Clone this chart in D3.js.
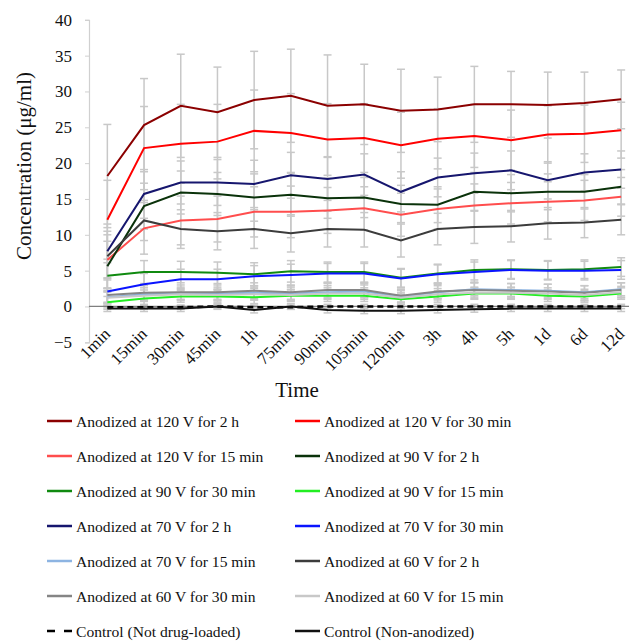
<!DOCTYPE html>
<html>
<head>
<meta charset="utf-8">
<script src="https://cdn.jsdelivr.net/npm/d3@7"></script>
<style>
  body { margin: 0; background: #fff; }
  text { font-family: "Liberation Serif", "Times New Roman", serif; fill: #111; }
</style>
</head>
<body>
<div id="chart"></div>
<script>
// time points
var times = ["1min","15min","30min","45min","1h","75min","90min","105min","120min","3h","4h","5h","1d","6d","12d"];
var yTicks = [-5, 0, 5, 10, 15, 20, 25, 30, 35, 40];

// series names
var seriesNames = [
    "Anodized at 120 V for 2 h", "Anodized at 120 V for 30 min",
    "Anodized at 120 V for 15 min", "Anodized at 90 V for 2 h",
    "Anodized at 90 V for 30 min", "Anodized at 90 V for 15 min",
    "Anodized at 70 V for 2 h", "Anodized at 70 V for 30 min",
    "Anodized at 70 V for 15 min", "Anodized at 60 V for 2 h",
    "Anodized at 60 V for 30 min", "Anodized at 60 V for 15 min",
    "Control (Not drug-loaded)", "Control (Non-anodized)"
];
var seriesColors = ["#8b0000","#ff0000","#ff4d4d","#0a320a","#108a10","#22ee22",
                    "#16166e","#0a14ff","#8db4e2","#3c3c3c","#858585","#c8c8c8","#000000","#111111"];

// concentration values (ug/ml)
var v120_2h  = [18.2,25.3,28.0,27.1,28.8,29.4,28.0,28.2,27.3,27.5,28.2,28.2,28.1,28.4,28.9];
var v120_30  = [12.1,22.1,22.7,23.0,24.5,24.2,23.3,23.5,22.5,23.4,23.8,23.2,24.0,24.1,24.6];
var v120_15  = [6.5,10.9,12.0,12.2,13.2,13.2,13.4,13.7,12.8,13.6,14.1,14.4,14.6,14.8,15.3];
var v90_2h   = [5.6,14.0,15.9,15.7,15.2,15.6,15.1,15.2,14.3,14.2,16.0,15.8,16.0,16.0,16.7];
var v90_30   = [4.3,4.8,4.8,4.7,4.5,4.9,4.8,4.8,4.0,4.6,5.1,5.2,5.1,5.2,5.5];
var v90_15   = [0.6,1.1,1.4,1.4,1.3,1.5,1.5,1.5,1.0,1.4,1.8,1.8,1.5,1.4,1.8];
var v70_2h   = [7.7,15.7,17.3,17.3,17.1,18.3,17.8,18.4,16.0,18.0,18.6,19.0,17.6,18.7,19.1];
var v70_30   = [2.1,3.1,3.8,3.8,4.2,4.4,4.6,4.6,3.9,4.5,4.8,5.1,5.0,5.0,5.1];
var v70_15   = [1.3,1.7,1.8,1.8,1.9,1.8,2.0,2.1,1.4,2.0,2.4,2.3,2.2,2.0,2.4];
var v60_2h   = [7.0,12.0,10.8,10.5,10.8,10.2,10.8,10.7,9.2,10.8,11.1,11.2,11.6,11.7,12.1];
var v60_30   = [1.6,1.9,2.0,2.0,2.2,2.0,2.3,2.3,1.5,2.1,2.3,2.2,2.1,1.9,2.3];
var v60_15   = [1.2,1.5,1.7,1.6,1.7,1.6,1.8,1.8,1.2,1.7,1.9,1.9,1.8,1.6,2.0];
var vCtrlDrug = [-0.1,-0.1,-0.1,0.0,-0.1,-0.1,0.0,0.0,0.0,0.0,0.0,0.0,0.0,0.0,0.0];
var vCtrlAnod = [-0.3,-0.3,-0.3,0.0,-0.5,0.0,-0.5,-0.6,-0.6,-0.5,-0.4,-0.3,-0.3,-0.3,-0.3];

// error bar half-lengths
var e120_2h  = [7.2,6.5,7.2,6.3,6.8,6.5,7.1,5.6,5.8,4.5,5.3,4.6,4.6,4.3,4.1];
var e120_30  = [5.5,5.8,5.5,5.2,5.7,5.5,5.0,4.8,4.6,4.2,4.4,4.2,4.0,4.0,3.9];
var e120_15  = [4.0,3.6,3.4,3.2,3.5,3.6,3.2,3.0,3.0,2.8,3.0,2.9,2.8,2.8,2.7];
var e90_2h   = [3.5,3.2,3.0,3.0,3.3,3.0,2.8,2.8,2.6,2.5,2.7,2.6,2.5,2.4,2.4];
var e90_30   = [1.8,1.6,1.5,1.5,1.6,1.5,1.4,1.4,1.3,1.3,1.4,1.3,1.3,1.3,1.3];
var e90_15   = [0.8,0.8,0.8,0.8,0.9,0.8,0.8,0.8,0.7,0.8,0.8,0.8,0.8,0.8,0.8];
var e70_2h   = [3.8,3.4,3.0,3.2,3.3,3.2,3.0,2.9,2.8,2.7,2.8,2.7,2.6,2.6,2.6];
var e70_30   = [1.6,1.5,1.4,1.4,1.5,1.5,1.4,1.4,1.3,1.3,1.4,1.3,1.3,1.3,1.3];
var e70_15   = [0.9,0.9,0.9,0.9,1.0,0.9,0.9,0.9,0.8,0.9,0.9,0.9,0.9,0.9,0.9];
var e60_2h   = [3.0,2.8,2.7,2.6,2.7,2.6,2.5,2.4,2.3,2.2,2.3,2.2,2.2,2.1,2.1];
var e60_30   = [1.0,1.0,1.0,1.0,1.1,1.0,1.0,1.0,0.9,1.0,1.0,1.0,1.0,1.0,1.0];
var e60_15   = [0.8,0.8,0.8,0.8,0.8,0.8,0.8,0.8,0.7,0.8,0.8,0.8,0.8,0.8,0.8];
var eCtrlDrug = [0.3,0.3,0.3,0.3,0.3,0.3,0.3,0.3,0.3,0.3,0.3,0.3,0.3,0.3,0.3];
var eCtrlAnod = [0.4,0.4,0.4,0.4,0.4,0.4,0.4,0.4,0.4,0.4,0.4,0.4,0.4,0.4,0.4];

var seriesValues = [v120_2h,v120_30,v120_15,v90_2h,v90_30,v90_15,v70_2h,v70_30,v70_15,v60_2h,v60_30,v60_15,vCtrlDrug,vCtrlAnod];
var seriesErrors = [e120_2h,e120_30,e120_15,e90_2h,e90_30,e90_15,e70_2h,e70_30,e70_15,e60_2h,e60_30,e60_15,eCtrlDrug,eCtrlAnod];

var svgWidth = 629;
var svgHeight = 641;

var svg = d3.select("#chart")
            .append("svg")
            .attr("width", svgWidth)
            .attr("height", svgHeight);

var xScale = d3.scaleBand()
               .domain(times)
               .range([89, 639.5]);
var yScale = d3.scaleLinear()
               .domain([-5, 40])
               .range([342.3, 19.8]);
var cx = function(t){ return xScale(t) + xScale.bandwidth()/2; };

var series = seriesNames.map(function(name, i){
    return {
        name: name,
        color: seriesColors[i],
        dashed: i == 12,
        points: times.map(function(t, j){
            return {t: t, v: seriesValues[i][j], e: seriesErrors[i][j]};
        })
    };
});

// error bars
var errGroup = svg.append("g");
series.forEach(function(s){
    s.points.forEach(function(p){
        var x = cx(p.t);
        var y1 = yScale(p.v + p.e), y2 = yScale(p.v - p.e);
        errGroup.append("line")
            .attr("x1", x).attr("x2", x).attr("y1", y1).attr("y2", y2)
            .attr("stroke", "#c8c8c8").attr("stroke-width", 1.5);
        [y1, y2].forEach(function(y){
            errGroup.append("line")
                .attr("x1", x-4).attr("x2", x+4).attr("y1", y).attr("y2", y)
                .attr("stroke", "#c8c8c8").attr("stroke-width", 1.5);
        });
    });
});

// y axis
var yAxis = d3.axisLeft(yScale).tickValues(yTicks).tickSize(4).tickPadding(13);
var yG = svg.append("g")
    .attr("transform", "translate(89,0)")
    .call(yAxis);
yG.select(".domain").attr("stroke", "#d0d0d0").attr("stroke-width", 1.2);
yG.selectAll(".tick line").attr("stroke", "#d0d0d0");
yG.selectAll(".tick text")
    .style("font-family", "Liberation Serif, serif")
    .style("font-size", "17px")
    .attr("fill", "#111");

// x axis line at y=0
svg.append("line")
    .attr("x1", 89).attr("x2", 639.5)
    .attr("y1", yScale(0)).attr("y2", yScale(0))
    .attr("stroke", "#7f7f7f").attr("stroke-width", 1.2);

// x tick labels below the plot
svg.selectAll(".xlabel")
    .data(times)
    .enter()
    .append("text")
    .attr("class", "xlabel")
    .attr("transform", function(d){ return "translate(" + (cx(d)+4) + ",335) rotate(-45)"; })
    .style("text-anchor", "end")
    .style("font-size", "17px")
    .text(function(d){ return d; });

// lines
var line = d3.line()
    .x(function(d){ return cx(d.t); })
    .y(function(d){ return yScale(d.v); });

svg.append("g")
    .selectAll("path")
    .data(series)
    .enter()
    .append("path")
    .attr("d", function(d){ return line(d.points); })
    .attr("fill", "none")
    .attr("stroke", function(d){ return d.color; })
    .attr("stroke-width", function(d){ return d.dashed ? 2.6 : 2; })
    .attr("stroke-dasharray", function(d){ return d.dashed ? "6,4" : null; });

// axis titles
svg.append("text")
    .attr("transform", "translate(31,166) rotate(-90)")
    .style("text-anchor", "middle")
    .style("font-size", "21px")
    .text("Concentration (\u03bcg/ml)");

svg.append("text")
    .attr("x", 297)
    .attr("y", 397)
    .style("text-anchor", "middle")
    .style("font-size", "21px")
    .text("Time");

// legend
var legend = svg.append("g");
series.forEach(function(s, i){
    var col = i % 2, row = Math.floor(i / 2);
    var lx = col == 0 ? 47 : 295;
    var ly = 421 + row * 35;
    legend.append("line")
        .attr("x1", lx).attr("x2", lx + 25)
        .attr("y1", ly).attr("y2", ly)
        .attr("stroke", s.color)
        .attr("stroke-width", 2.5)
        .attr("stroke-dasharray", s.dashed ? "8,9" : null);
    legend.append("text")
        .attr("x", lx + 29)
        .attr("y", ly + 5.5)
        .style("font-size", "15.6px")
        .attr("fill", "#222")
        .text(s.name);
});
</script>
</body>
</html>
